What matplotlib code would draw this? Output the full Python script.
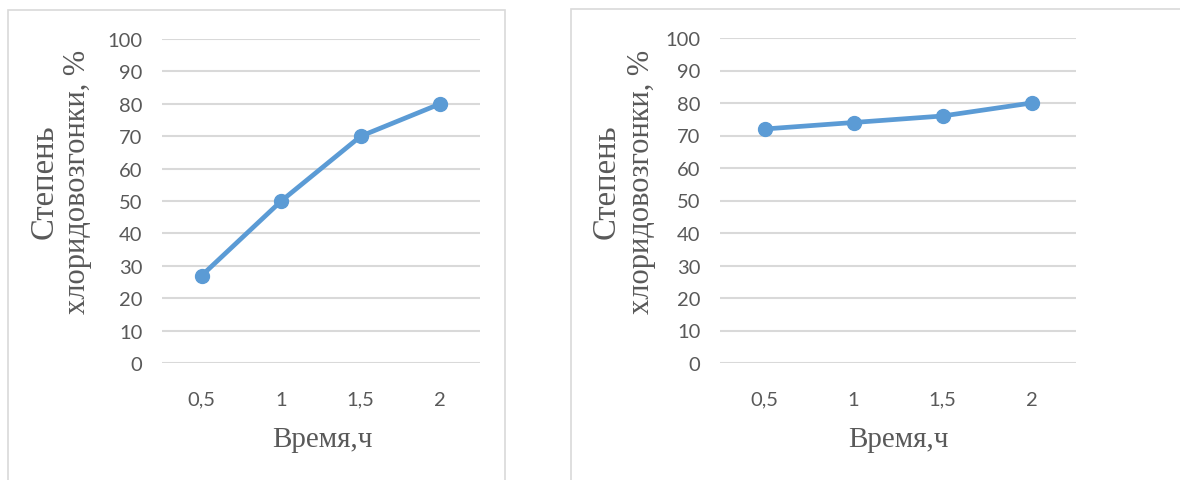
import matplotlib
matplotlib.use("Agg")
import matplotlib.pyplot as plt
from matplotlib.patches import Rectangle

W, H = 1180, 481

hours = ["0,5", "1", "1,5", "2"]
degree_left = [27, 50, 70, 80]
degree_right = [72, 74, 76, 80]
yticks = list(range(0, 101, 10))

ylabel = "Степень\nхлоридовозгонки, %"
xlabel = "Время,ч"

blue = "#5b9bd5"
grid_c = "#d9d9d9"
tick_c = "#595959"
tick_font = "Lato"
label_font = "Liberation Serif"

fig = plt.figure(figsize=(W / 100, H / 100), dpi=100, facecolor="white")


def fx(px):
    return px / W


def fy(py):
    return 1 - py / H


# panel frames
fig.patches.append(Rectangle((fx(8), fy(490)), fx(497), 479 / H, transform=fig.transFigure,
                             fill=False, edgecolor=grid_c, lw=1.2))
fig.patches.append(Rectangle((fx(571), fy(490)), fx(640), 480 / H, transform=fig.transFigure,
                             fill=False, edgecolor=grid_c, lw=1.2))


def panel(left, right, top, values, lab1_x, lab2_x, xlab_x):
    bottom = 364
    ax = fig.add_axes([fx(left), fy(bottom), fx(right - left), (bottom - top) / H])
    x = list(range(len(hours)))
    ax.plot(x, values, color=blue, lw=3.4, marker="o", ms=10, zorder=3,
            solid_capstyle="round")
    ax.set_xlim(-0.5, len(hours) - 0.5)
    ax.set_ylim(0, 100)
    ax.set_yticks(yticks)
    ax.set_xticks(x)
    ax.set_xticklabels(hours)
    ax.yaxis.grid(True, color=grid_c, lw=1.5)
    ax.set_axisbelow(True)
    for s in ax.spines.values():
        s.set_visible(False)
    ax.tick_params(length=0, colors=tick_c, labelsize=14.5)
    ax.tick_params(axis="y", pad=14)
    ax.tick_params(axis="x", pad=20)
    for t in ax.get_xticklabels() + ax.get_yticklabels():
        t.set_fontfamily(tick_font)
    # y label, two lines drawn separately
    l1, l2 = ylabel.split("\n")
    fig.text(fx(lab1_x), fy(182), l1, rotation=90, ha="center", va="center",
             fontsize=23.5, family=label_font, color=tick_c)
    fig.text(fx(lab2_x), fy(182), l2, rotation=90, ha="center", va="center",
             fontsize=22, family=label_font, color=tick_c)
    fig.text(fx(xlab_x), fy(440), xlabel, ha="center", va="center",
             fontsize=21, family=label_font, color=tick_c)
    return ax


panel(162, 480, 40, degree_left, 44, 78, 322)
panel(720, 1076, 39, degree_right, 606, 641, 898)

fig.savefig("out.png", dpi=100)
